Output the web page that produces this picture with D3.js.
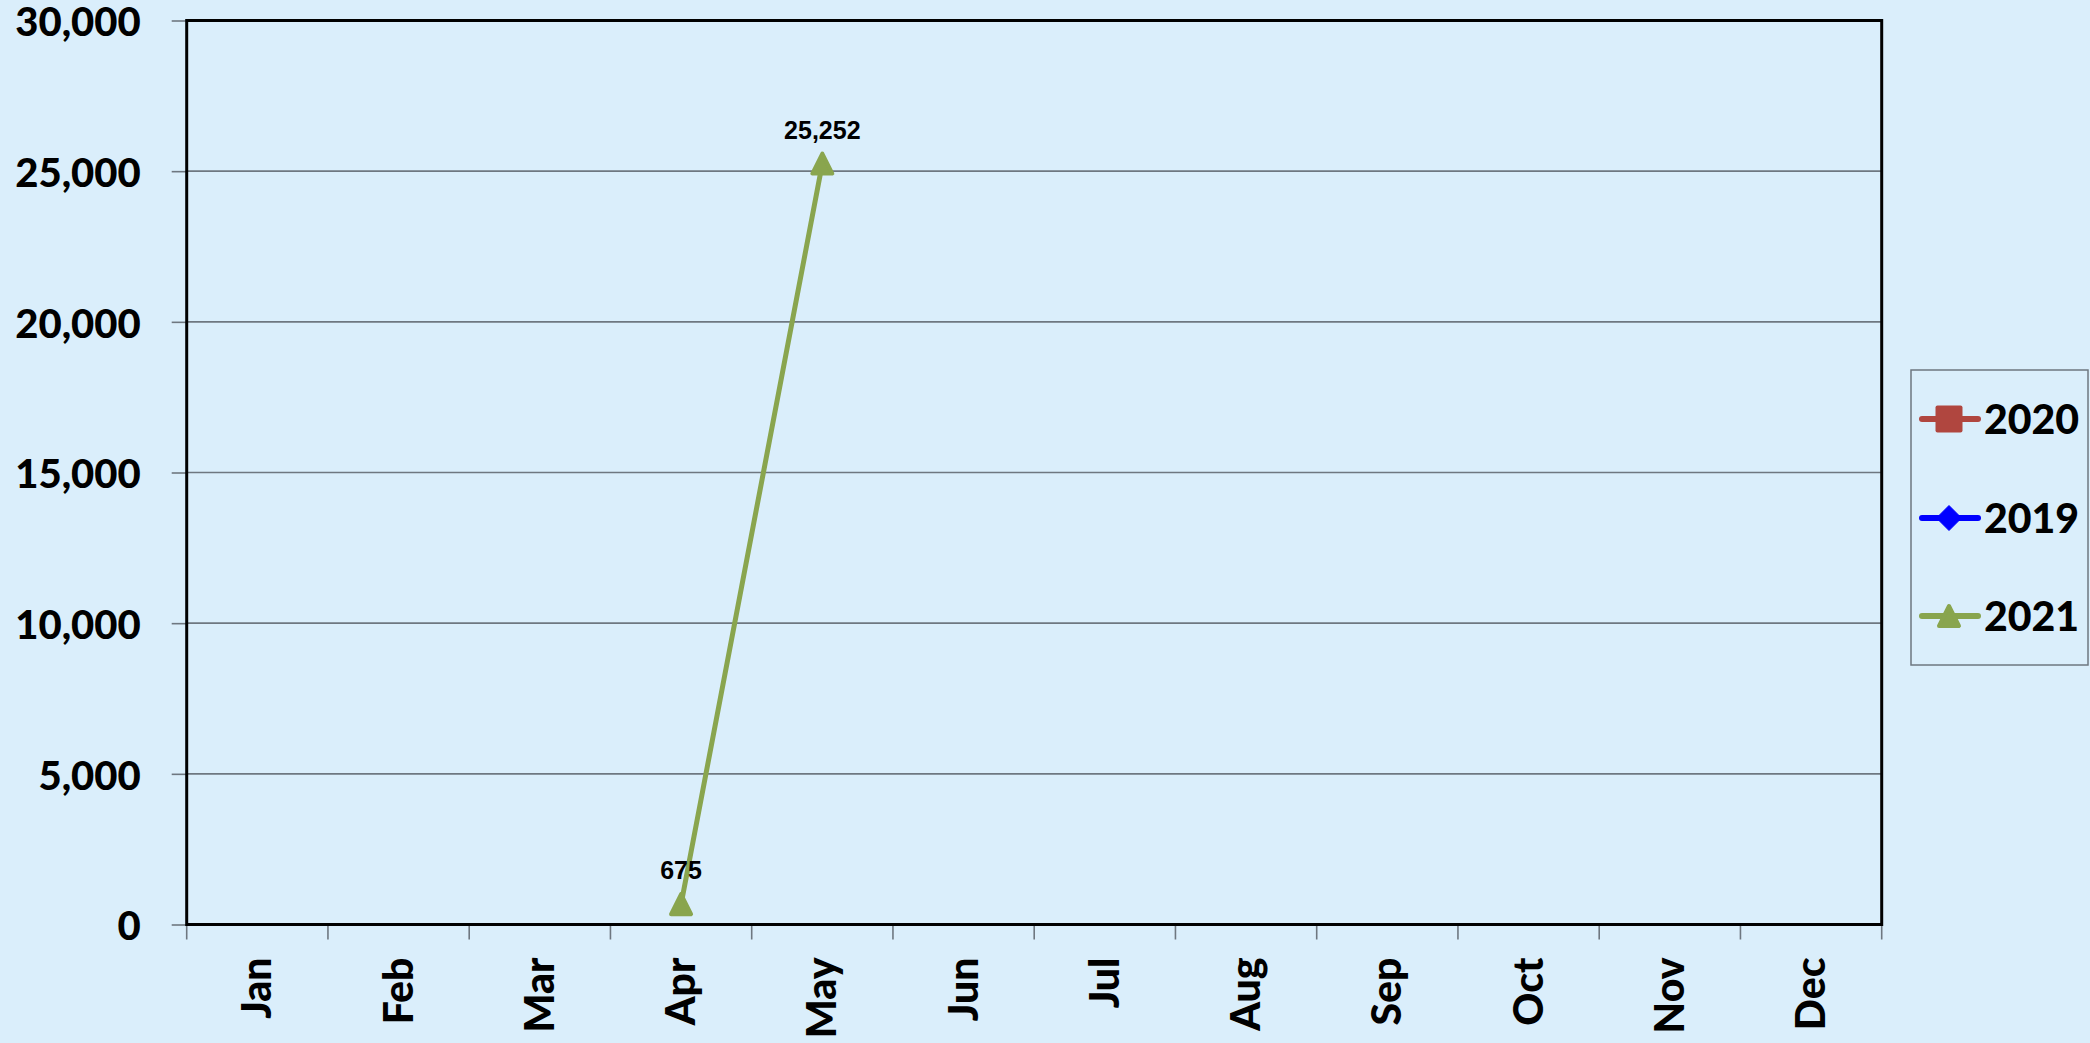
<!DOCTYPE html>
<html><head><meta charset="utf-8">
<script src="https://cdn.jsdelivr.net/npm/d3@7"></script>
<style>
html,body{margin:0;padding:0;background:#DAEEFB;}
svg{display:block;}
</style></head>
<body>
<svg id="chart" width="2090" height="1043"></svg>
<script>
const months = ["Jan","Feb","Mar","Apr","May","Jun","Jul","Aug","Sep","Oct","Nov","Dec"];
const yTicks = [0,5000,10000,15000,20000,25000,30000];
const values2020 = [null,null,null,null,null,null,null,null,null,null,null,null];
const values2019 = [null,null,null,null,null,null,null,null,null,null,null,null];
const values2021 = [null,null,null,675,25252,null,null,null,null,null,null,null];
const seriesNames = ["2020","2019","2021"];
const seriesColors = ["#B0463F","#0000FF","#89A54E"];
const seriesMarkers = ["square","diamond","triangle"];

const svg = d3.select("#chart");
svg.append("rect").attr("width",2090).attr("height",1043).attr("fill","#DAEEFB");

const L=186.7, R=1881.7, T=20.5, B=924.5;
const x = d3.scaleBand().domain(months).range([L,R]);
const y = d3.scaleLinear().domain([0,30000]).range([B,T]);
const fmt = d3.format(",");
const FONT = "Lato";
const FW = "900";

// gridlines
svg.append("g").selectAll("line").data(yTicks.filter(d=>d>0)).join("line")
  .attr("x1",L).attr("x2",R).attr("y1",d=>y(d)).attr("y2",d=>y(d))
  .attr("stroke","#6E7780").attr("stroke-width",1.6);

// y axis
const ya = svg.append("g").attr("transform",`translate(${L},0)`)
  .call(d3.axisLeft(y).tickValues(yTicks).tickFormat(fmt).tickSize(15).tickPadding(31));
ya.select(".domain").remove();
ya.selectAll(".tick line").attr("stroke","#6E7780").attr("stroke-width",1.6);
ya.selectAll(".tick text").attr("font-family",FONT).attr("font-weight",FW)
  .attr("font-size","40px").attr("fill","#000").attr("dy","0.38em");

// x axis ticks at band boundaries
const bounds = months.map(m=>x(m)).concat([R]);
svg.append("g").selectAll("line").data(bounds).join("line")
  .attr("x1",d=>d).attr("x2",d=>d).attr("y1",B).attr("y2",B+15)
  .attr("stroke","#6E7780").attr("stroke-width",1.6);
svg.append("g").selectAll("text").data(months).join("text")
  .attr("transform",d=>`translate(${x(d)+x.bandwidth()/2+14},${B+33}) rotate(-90)`)
  .attr("text-anchor","end")
  .attr("font-family",FONT).attr("font-weight",FW).attr("font-size","41px")
  .attr("fill","#000").text(d=>d);

// frame
svg.append("rect").attr("x",L).attr("y",T).attr("width",R-L).attr("height",B-T)
  .attr("fill","none").attr("stroke","#000").attr("stroke-width",3);

// series
const allSeries = [values2020, values2019, values2021];
const cx = i => x(months[i]) + x.bandwidth()/2;
function marker(g, type, color, size){
  if(type==="square"){
    g.append("rect").attr("x",-size/2).attr("y",-size/2).attr("width",size).attr("height",size)
      .attr("rx",2).attr("fill",color);
  } else if(type==="diamond"){
    g.append("path").attr("d",`M0,${-size/2}L${size/2},0L0,${size/2}L${-size/2},0Z`).attr("fill",color)
      .attr("stroke",color).attr("stroke-width",1).attr("stroke-linejoin","round");
  } else {
    const h=size;
    g.append("path").attr("d",`M0,${-h/2}L${size/2},${h/2}L${-size/2},${h/2}Z`).attr("fill",color)
      .attr("stroke",color).attr("stroke-width",4).attr("stroke-linejoin","round");
  }
}
allSeries.forEach((vals,si)=>{
  const pts = vals.map((v,i)=>({i,v})).filter(d=>d.v!==null);
  if(!pts.length) return;
  const line = d3.line().x(d=>cx(d.i)).y(d=>y(d.v));
  svg.append("path").datum(pts).attr("d",line).attr("fill","none")
    .attr("stroke",seriesColors[si]).attr("stroke-width",5).attr("stroke-linecap","round");
  pts.forEach(d=>{
    const g = svg.append("g").attr("transform",`translate(${cx(d.i)},${y(d.v)})`);
    marker(g, seriesMarkers[si], seriesColors[si], 20);
    svg.append("text").attr("x",cx(d.i)).attr("y",y(d.v)-25)
      .attr("text-anchor","middle").attr("font-family","Liberation Sans, Arial")
      .attr("font-weight","bold").attr("font-size","25px").attr("fill","#000").text(fmt(d.v));
  });
});

// legend
svg.append("rect").attr("x",1911).attr("y",370).attr("width",177).attr("height",295)
  .attr("fill","#DAEEFB").attr("stroke","#6E7780").attr("stroke-width",1.5);
const legY = [419,518,616];
seriesNames.forEach((n,si)=>{
  const g = svg.append("g").attr("transform",`translate(0,${legY[si]})`);
  g.append("line").attr("x1",1922).attr("x2",1978).attr("y1",0).attr("y2",0)
    .attr("stroke",seriesColors[si]).attr("stroke-width",6).attr("stroke-linecap","round");
  const mg = g.append("g").attr("transform","translate(1949,0)");
  marker(mg, seriesMarkers[si], seriesColors[si], si===0?27:(si===1?25:20));
  g.append("text").attr("x",1984).attr("y",0).attr("dy","0.36em")
    .attr("font-family",FONT).attr("font-weight",FW).attr("font-size","41px")
    .attr("fill","#000").text(n);
});
</script>
</body></html>
